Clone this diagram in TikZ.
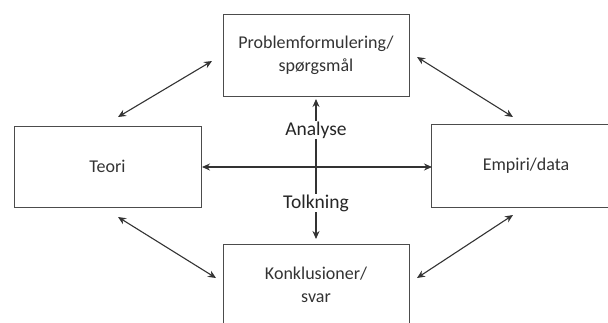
\documentclass[tikz,border=0pt]{standalone}
\usepackage{fontspec}
\setmainfont{Carlito}
\usetikzlibrary{arrows.meta}
\begin{document}
\begin{tikzpicture}[x=1pt,y=-1pt,
  boxst/.style={draw=black!70, line width=0.9pt, inner sep=0pt, align=center, font=\fontsize{18}{23}\selectfont, text=black!80},
  boxline/.style={draw=black!70, line width=0.9pt},
  conn/.style={draw=black!80, line width=1.1pt, {Stealth[length=8pt,width=7pt]}-{Stealth[length=8pt,width=7pt]}},
  lbl/.style={fill=white, inner sep=1pt, font=\fontsize{19.5}{22}\selectfont, text=black!85}]
\useasboundingbox (0,0) rectangle (608,322);
\clip (0,0) rectangle (608,322);
\node[boxst, minimum width=186pt, minimum height=82pt] (prob) at (316,55) {Problemformulering/\\spørgsmål};
\node[boxst, minimum width=187pt, minimum height=81pt] (teori) at (107.5,166.5) {Teori};
\node[boxst, draw=none, minimum width=188pt, minimum height=82pt] (emp) at (526,166) {Empiri/data};
\draw[boxline] (emp.north west) ++(220,0) -- (emp.north west) -- (emp.south west) -- +(220,0);
\node[boxst, minimum width=186pt, minimum height=82pt] (konk) at (316,285) {Konklusioner/\\svar};
\coordinate (tl1) at (212,61); \coordinate (tl2) at (118,117);
\coordinate (tr1) at (417,57); \coordinate (tr2) at (513,117);
\coordinate (bl1) at (118,217); \coordinate (bl2) at (216,278);
\coordinate (br1) at (513,215); \coordinate (br2) at (417,278);
\coordinate (vt) at (316,99); \coordinate (vb) at (316,239);
\coordinate (hl) at (202,167); \coordinate (hr) at (432,167);
\draw[conn] (tl1) -- (tl2);
\draw[conn] (tr1) -- (tr2);
\draw[conn] (bl1) -- (bl2);
\draw[conn] (br1) -- (br2);
\draw[conn] (hl) -- (hr);
\draw[conn] (vt) -- (vb);
\node[lbl] (ana) at (316,130) {Analyse};
\node[lbl] (tolk) at (316,203) {Tolkning};
\end{tikzpicture}
\end{document}
